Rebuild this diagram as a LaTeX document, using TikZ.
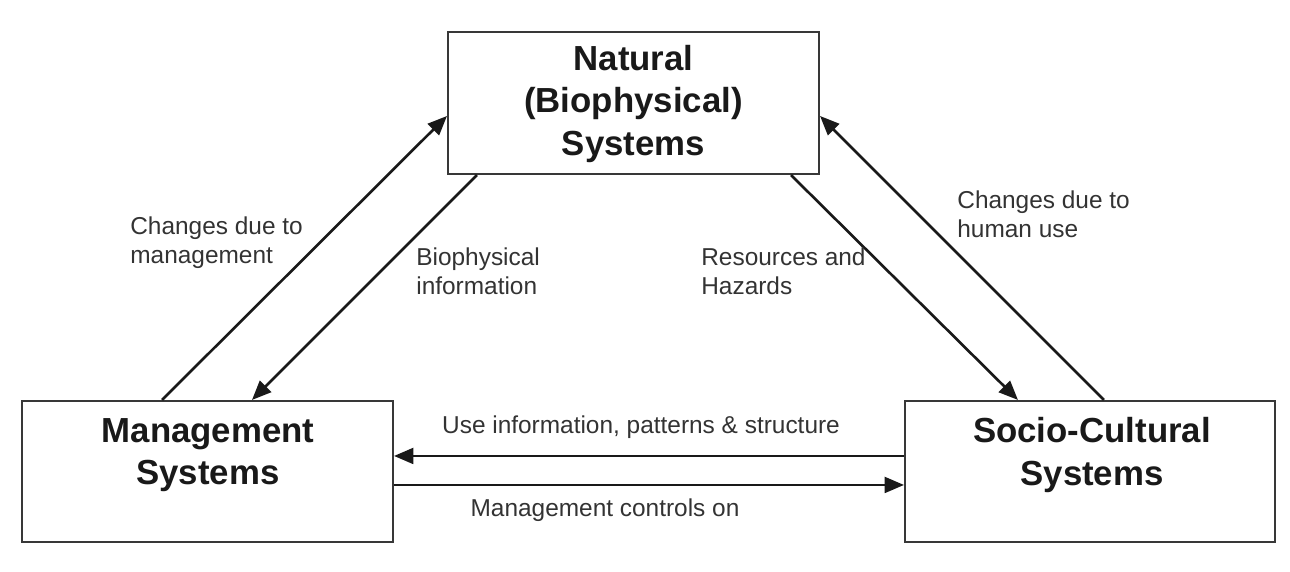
\documentclass[tikz,border=0pt]{standalone}
\usepackage{fontspec}
\setmainfont{Liberation Sans}
\usetikzlibrary{arrows.meta,calc}
\begin{document}
\begin{tikzpicture}[x=0.02cm,y=-0.02cm,
  sysbox/.style={draw=black!78,line width=1.2pt,rectangle,inner sep=0pt},
  systext/.style={font=\fontsize{19.8}{24}\selectfont\bfseries,align=center,text=black!90,inner sep=0pt},
  lbl/.style={font=\fontsize{13.9}{16.5}\selectfont,align=left,text=black!80,inner sep=0pt},
  conn/.style={line width=1.5pt,draw=black!90,-{Triangle[length=11pt,width=9pt]}}]
\useasboundingbox (0,0) rectangle (1290,571);
% boxes
\node[sysbox,minimum width=7.42cm,minimum height=2.84cm] (nat) at (633.5,103) {};
\node[sysbox,minimum width=7.42cm,minimum height=2.82cm] (mgmt) at (207.5,471.5) {};
\node[sysbox,minimum width=7.40cm,minimum height=2.82cm] (soc) at (1090,471.5) {};
% box texts
\node[systext] (natT) at (633.5,104) {Natural\\(Biophysical)\\Systems};
\node[systext] (mgmtT) at (208,455) {Management\\Systems};
\node[systext] (socT) at (1092,455) {Socio-Cultural\\Systems};
% connectors
\draw[conn] ($(mgmt.north west)+(141,0)$) -- ($(nat.north west)+(0,85)$);
\draw[conn] ($(nat.south west)+(30,0)$) -- ($(mgmt.north west)+(231,0)$);
\draw[conn] ($(nat.south west)+(344,0)$) -- ($(soc.north west)+(114,0)$);
\draw[conn] ($(soc.north west)+(200,0)$) -- ($(nat.north east)+(0,85)$);
\draw[conn] ($(soc.north west)+(0,56)$) -- ($(mgmt.north east)+(0,56)$);
\draw[conn] ($(mgmt.north east)+(0,85)$) -- ($(soc.north west)+(0,85)$);
% labels
\node[lbl,anchor=west] (l1) at (130,243) {Changes due to\\management};
\node[lbl,anchor=west] (l2) at (416,271) {Biophysical\\information};
\node[lbl,anchor=west] (l3) at (701,271) {Resources and\\Hazards};
\node[lbl,anchor=west] (l4) at (957,214) {Changes due to\\human use};
\node[lbl] (l5) at (641,427) {Use information, patterns \& structure};
\node[lbl] (l6) at (605,510) {Management controls on};
\end{tikzpicture}
\end{document}
